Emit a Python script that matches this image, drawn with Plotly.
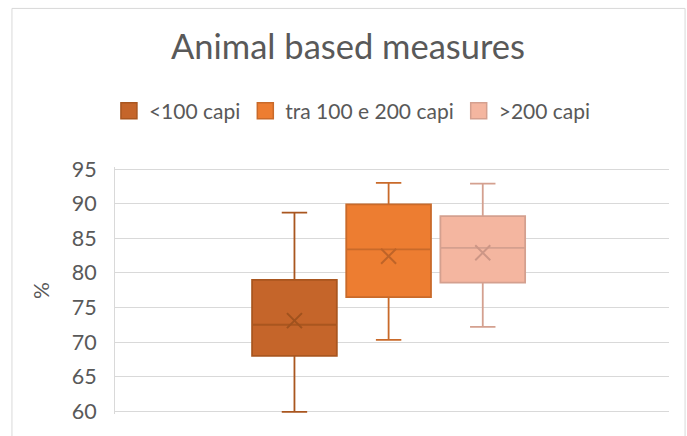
import plotly.graph_objects as go

categories = ["<100 capi", "tra 100 e 200 capi", ">200 capi"]
lower_whisker = [59.9, 70.3, 72.2]
q1_values = [68.0, 76.5, 78.6]
median_values = [72.5, 83.4, 83.6]
q3_values = [79.0, 89.9, 88.2]
upper_whisker = [88.7, 93.0, 92.9]
mean_values = [73.1, 82.4, 82.9]
y_ticks = [60, 65, 70, 75, 80, 85, 90, 95]

fill_colors = ["#C5652A", "#ED7D31", "#F4B6A0"]
line_colors = ["#A9561F", "#C96A2A", "#D4A08F"]
mean_colors = ["#A0521E", "#BF6428", "#CC9686"]

FONT = "Lato"
GREY = "#595959"

fig = go.Figure()

for i, cat in enumerate(categories):
    fig.add_trace(go.Box(
        x=[cat],
        q1=[q1_values[i]],
        median=[median_values[i]],
        q3=[q3_values[i]],
        lowerfence=[lower_whisker[i]],
        upperfence=[upper_whisker[i]],
        fillcolor=fill_colors[i],
        line=dict(color=line_colors[i], width=1.8),
        width=0.9,
        whiskerwidth=0.3,
        showlegend=False,
        hoverinfo="skip",
    ))
    fig.add_trace(go.Scatter(
        x=[cat], y=[mean_values[i]], mode="markers",
        marker=dict(symbol="x-thin", size=15,
                    line=dict(color=mean_colors[i], width=2)),
        showlegend=False, hoverinfo="skip",
    ))

# legend entries (square swatches)
for i, cat in enumerate(categories):
    fig.add_trace(go.Scatter(
        x=[None], y=[None], mode="markers", name=cat,
        marker=dict(symbol="square", size=18, color=fill_colors[i],
                    line=dict(color=line_colors[i], width=1.5)),
    ))

fig.add_shape(type="rect", xref="paper", yref="paper",
              x0=-0.186, x1=1.029, y0=-0.3, y1=1.642,
              line=dict(color="#D9D9D9", width=1), fillcolor="rgba(0,0,0,0)",
              layer="below")

fig.update_layout(
    width=687, height=436,
    margin=dict(l=115, r=18, t=167, b=20),
    paper_bgcolor="white", plot_bgcolor="white",
    font=dict(family=FONT, color=GREY),
    title=dict(text="Animal based measures", x=0.5066, xref="container",
               y=0.892, yref="container", xanchor="center", yanchor="middle",
               font=dict(family=FONT, size=34.5, color=GREY)),
    legend=dict(orientation="h", x=0.513, xref="container", xanchor="center",
                y=0.745, yref="container", yanchor="middle",
                font=dict(family=FONT, size=21, color=GREY),
                itemwidth=30, tracegroupgap=0),
    showlegend=True,
)

fig.update_xaxes(type="category", range=[-1.906, 3.978], showticklabels=False,
                 showgrid=False, zeroline=False, showline=False)
fig.update_yaxes(range=[59.6, 95.3], tickmode="array", tickvals=y_ticks,
                 showgrid=True, gridcolor="#D9D9D9", gridwidth=1,
                 zeroline=False, showline=True, linecolor="#D9D9D9", linewidth=1,
                 ticks="", ticklabelstandoff=13,
                 tickfont=dict(family=FONT, size=21.5, color=GREY),
                 title=dict(text="%", standoff=16,
                            font=dict(family=FONT, size=21, color=GREY)))

fig.write_html("out.html",
               config={"displayModeBar": False},
               post_script="document.body.style.margin='0';document.body.style.overflow='hidden';")
